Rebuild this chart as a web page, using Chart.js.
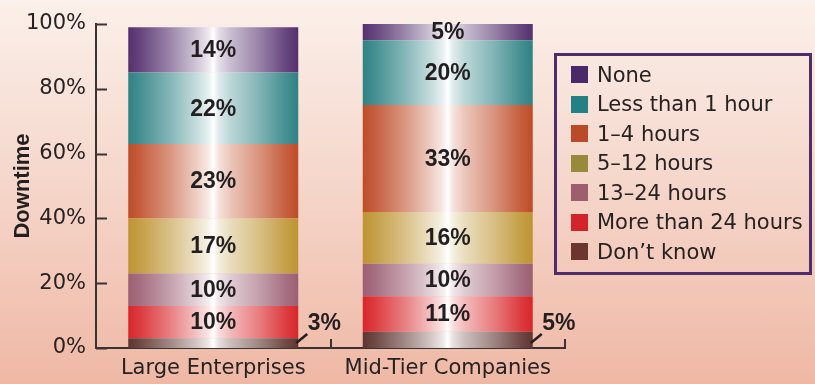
<!DOCTYPE html>
<html>
<head>
<meta charset="utf-8">
<script src="https://cdn.jsdelivr.net/npm/chart.js@4/dist/chart.umd.min.js"></script>
<style>
  html, body { margin: 0; padding: 0; }
  body {
    width: 815px;
    height: 384px;
    overflow: hidden;
    background: linear-gradient(#fbf0ea, #f5d5c9 50%, #efb8a5);
  }
  #wrap { position: relative; width: 815px; height: 384px; }
  #chart { position: absolute; left: 0; top: 0; }
  #legend {
    position: absolute;
    left: 554px;
    top: 53px;
    width: 252px;
    height: 212px;
    border: 3px solid #4f2d6b;
    padding: 4px 0 0 0;
    box-sizing: content-box;
    font-family: "DejaVu Sans", sans-serif;
    font-size: 21px;
    color: #262222;
  }
  #legend .row { height: 29.5px; display: flex; align-items: center; }
  #legend .sw { width: 17px; height: 17px; margin: 0 9px 0 14px; flex: none; }
</style>
</head>
<body>
<div id="wrap">
  <canvas id="chart" width="815" height="384"></canvas>
  <div id="legend"></div>
</div>
<script>
// categories and series, stacked bottom to top
const categories = ['Large Enterprises', 'Mid-Tier Companies'];
const seriesNames = ['Don\u2019t know', 'More than 24 hours', '13\u201324 hours', '5\u201312 hours', '1\u20134 hours', 'Less than 1 hour', 'None'];
const dontKnow = [3, 5];
const over24 = [10, 11];
const hours13to24 = [10, 10];
const hours5to12 = [17, 16];
const hours1to4 = [23, 33];
const under1 = [22, 20];
const none = [14, 5];
const yTicks = [0, 20, 40, 60, 80, 100];

const seriesValues = [dontKnow, over24, hours13to24, hours5to12, hours1to4, under1, none];
const barColors = ['#5e3530', '#d8262a', '#9c5f73', '#be9432', '#bf4c28', '#2f8285', '#55306e'];
const legendColors = ['#6b3630', '#d2242b', '#9e5e6e', '#978b3b', '#b94c28', '#258085', '#4b2868'];
const outsideSeries = 0; // the thin "Don't know" slice gets its label outside

const BAR_PCT = 0.725;
const TEXT = '#231f20';

function mix(hex, t) {
    // t = 0 -> base colour, t = 1 -> white
    const r = parseInt(hex.slice(1, 3), 16);
    const g = parseInt(hex.slice(3, 5), 16);
    const b = parseInt(hex.slice(5, 7), 16);
    const m = v => Math.round(v + (255 - v) * t);
    return `rgb(${m(r)},${m(g)},${m(b)})`;
}

// cylinder-ish shading across each bar
function barGradient(context, base) {
    const chart = context.chart;
    const xs = chart.scales.x;
    if (!xs || context.dataIndex === undefined) return base;
    const cx = xs.getPixelForValue(context.dataIndex);
    const w = (xs.width / categories.length) * BAR_PCT;
    if (!isFinite(cx) || !isFinite(w) || w <= 0) return base;
    const g = chart.ctx.createLinearGradient(cx - w / 2, 0, cx + w / 2, 0);
    const stops = [[0, 0], [0.07, 0.1], [0.25, 0.42], [0.4, 0.72], [0.47, 0.88], [0.5, 1],
                   [0.53, 0.85], [0.6, 0.68], [0.77, 0.4], [0.93, 0.1], [1, 0]];
    stops.forEach(([p, t]) => g.addColorStop(p, mix(base, t)));
    return g;
}

const datasets = seriesNames.map((name, i) => ({
    label: name,
    data: seriesValues[i],
    backgroundColor: ctx => barGradient(ctx, barColors[i]),
    borderWidth: 0,
    barPercentage: BAR_PCT,
    categoryPercentage: 1
}));

// value labels on the segments
const segmentLabels = {
    id: 'segmentLabels',
    afterDatasetsDraw(chart) {
        const ctx = chart.ctx;
        const bottom = chart.scales.y.getPixelForValue(0);
        ctx.save();
        ctx.font = 'bold 23px "Liberation Sans", Arial, sans-serif';
        ctx.fillStyle = TEXT;
        ctx.textAlign = 'center';
        ctx.textBaseline = 'middle';
        chart.data.datasets.forEach((ds, di) => {
            const meta = chart.getDatasetMeta(di);
            meta.data.forEach((bar, i) => {
                const v = ds.data[i];
                const text = v + '%';
                if (di === outsideSeries) {
                    const right = bar.x + bar.width / 2;
                    ctx.strokeStyle = TEXT;
                    ctx.lineWidth = 2.5;
                    ctx.beginPath();
                    ctx.moveTo(right - 2, bottom - 5);
                    ctx.lineTo(right + 9, bottom - 14);
                    ctx.stroke();
                    ctx.fillText(text, right + 26, bottom - 24);
                } else {
                    ctx.fillText(text, bar.x, (bar.y + bar.base) / 2 + 1);
                }
            });
        });
        ctx.restore();
    }
};

// short tick marks pointing into the plot
const innerTicks = {
    id: 'innerTicks',
    afterDraw(chart) {
        const ctx = chart.ctx;
        const xs = chart.scales.x;
        const ys = chart.scales.y;
        ctx.save();
        ctx.strokeStyle = '#3a3333';
        ctx.lineWidth = 2;
        ctx.beginPath();
        yTicks.forEach(t => {
            const y = Math.round(ys.getPixelForValue(t)) + 0.5;
            ctx.moveTo(xs.left, y);
            ctx.lineTo(xs.left + 11, y);
        });
        const step = xs.width / categories.length;
        for (let i = 1; i <= categories.length; i++) {
            const x = Math.round(xs.left + step * i);
            ctx.moveTo(x, ys.bottom);
            ctx.lineTo(x, ys.bottom - 9);
        }
        ctx.stroke();
        ctx.restore();
    }
};

const chart = new Chart(document.getElementById('chart'), {
    type: 'bar',
    data: { labels: categories, datasets: datasets },
    options: {
        responsive: false,
        animation: false,
        events: [],
        layout: { padding: { left: 0, right: 250, top: 24, bottom: 0 } },
        plugins: {
            legend: { display: false },
            tooltip: { enabled: false }
        },
        scales: {
            x: {
                stacked: true,
                grid: { display: false, drawTicks: false },
                border: { display: true, color: '#3a3333', width: 2 },
                ticks: {
                    padding: 8,
                    color: '#262222',
                    font: { family: '"DejaVu Sans", sans-serif', size: 21 },
                    maxRotation: 0
                },
                afterFit: scale => { scale.height = 36; }
            },
            y: {
                stacked: true,
                min: 0,
                max: 100,
                afterBuildTicks: scale => { scale.ticks = yTicks.map(v => ({ value: v })); },
                grid: { display: false, drawTicks: false },
                border: { display: true, color: '#3a3333', width: 2 },
                ticks: {
                    padding: 10,
                    color: '#262222',
                    font: { family: '"DejaVu Sans", sans-serif', size: 21 },
                    callback: v => v + '%'
                },
                title: {
                    display: true,
                    text: 'Downtime',
                    color: TEXT,
                    font: { family: '"Liberation Sans", Arial, sans-serif', size: 22, weight: 'bold' },
                    padding: { top: 10, bottom: 0 }
                },
                afterFit: scale => { scale.width = 96; }
            }
        }
    },
    plugins: [segmentLabels, innerTicks]
});
// gradients need the laid-out x scale, so resolve once more
chart.update();

// legend, top series first
const legendBox = document.getElementById('legend');
for (let i = seriesNames.length - 1; i >= 0; i--) {
    const row = document.createElement('div');
    row.className = 'row';
    const sw = document.createElement('span');
    sw.className = 'sw';
    sw.style.background = legendColors[i];
    const label = document.createElement('span');
    label.textContent = seriesNames[i];
    row.appendChild(sw);
    row.appendChild(label);
    legendBox.appendChild(row);
}
</script>
</body>
</html>
